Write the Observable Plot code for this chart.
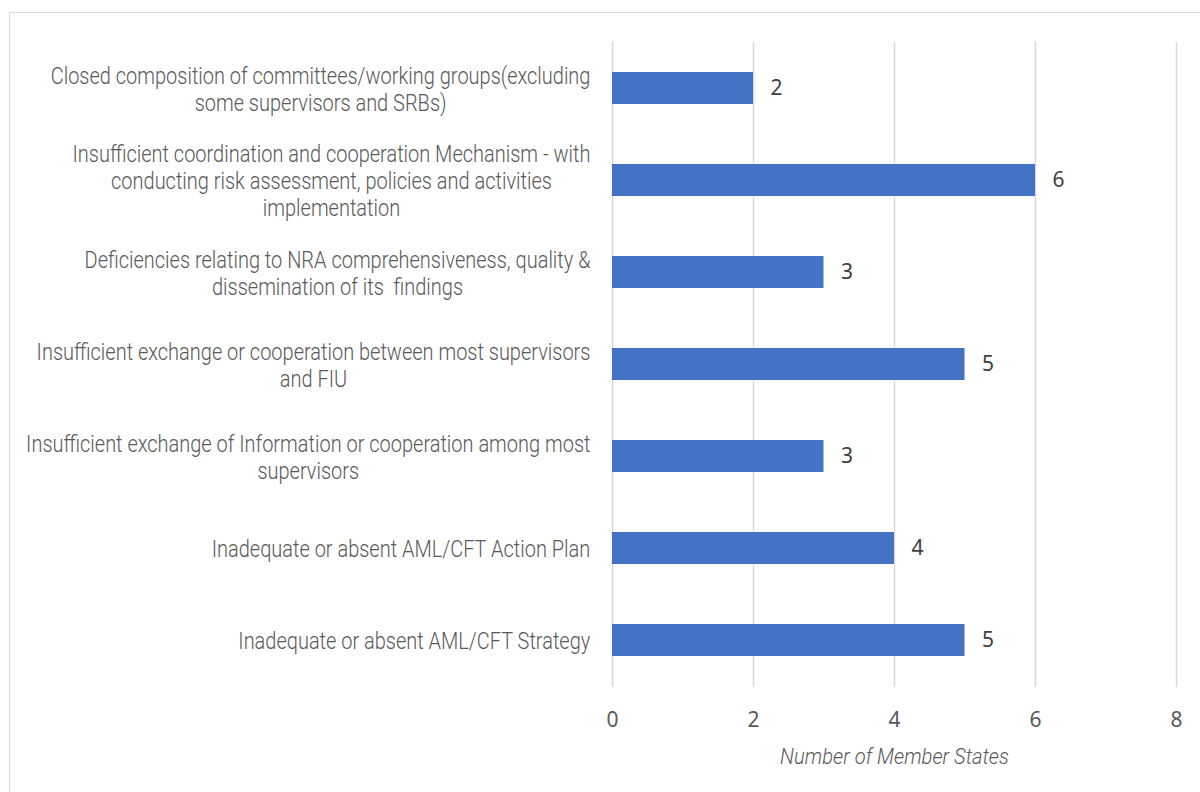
<!DOCTYPE html>
<html><head><meta charset="utf-8">
<script src="https://cdn.jsdelivr.net/npm/d3@7"></script>
<script src="https://cdn.jsdelivr.net/npm/@observablehq/plot@0.6"></script>
<style>
html,body{margin:0;padding:0;background:#fff;}
#wrap{position:relative;width:1200px;height:792px;overflow:hidden;background:#fff;}
#border{position:absolute;left:9px;top:12px;width:1400px;height:1000px;border:1px solid #d9d9d9;pointer-events:none;}
</style></head><body>
<div id="wrap"><div id="chart"></div><div id="border"></div></div>
<script>
// ---- data ----
const categories = [
  "Closed composition of committees/working groups(excluding\nsome supervisors and SRBs)",
  "Insufficient coordination and cooperation Mechanism - with\nconducting risk assessment, policies and activities\nimplementation",
  "Deficiencies relating to NRA comprehensiveness, quality &\ndissemination of its  findings",
  "Insufficient exchange or cooperation between most supervisors\nand FIU",
  "Insufficient exchange of Information or cooperation among most\nsupervisors",
  "Inadequate or absent AML/CFT Action Plan",
  "Inadequate or absent AML/CFT Strategy"
];
const values = [2, 6, 3, 5, 3, 4, 5];
const xTicks = [0, 2, 4, 6, 8];
const axisTitle = "Number of Member States";

const data = categories.map((c, i) => ({category: c, value: values[i]}));

// ---- condensed light label styling ----
const LABEL_FONT = "Roboto, 'Noto Sans', sans-serif";
const LABEL_WEIGHT = 300;
const LABEL_SIZE = 24;
const TITLE_SIZE = 22;
const ctx = document.createElement("canvas").getContext("2d");
function measure(s, size, style = "normal") {
  ctx.font = `${style} ${LABEL_WEIGHT} ${size}px ${LABEL_FONT}`;
  return d3.max(s.split("\n"), l => ctx.measureText(l).width);
}
// horizontal condensing so the widest single-line label spans ~379px, as in the reference
const SX = 379 / measure(categories[5], LABEL_SIZE);
const SX_TITLE = 229 / measure(axisTitle, TITLE_SIZE, "italic");

const labelMarks = categories.map(c => Plot.text([c], {
  y: d => d, text: d => d, frameAnchor: "left", textAnchor: "middle",
  lineAnchor: "middle", lineHeight: 27 / LABEL_SIZE,
  dx: -(22 + SX * measure(c, LABEL_SIZE) / 2),
  fontSize: LABEL_SIZE, fontFamily: LABEL_FONT, fontWeight: LABEL_WEIGHT, fill: "#595959"
}));

const chart = Plot.plot({
  width: 1200, height: 792,
  marginLeft: 612, marginRight: 24, marginTop: 42, marginBottom: 105,
  style: {fontFamily: "Noto Sans", background: "transparent", overflow: "visible"},
  x: {domain: [0, 8], axis: null},
  y: {domain: categories, paddingInner: 0.65, paddingOuter: 0.325, axis: null},
  marks: [
    Plot.ruleX(xTicks, {stroke: "#d9d9d9", strokeWidth: 1.5}),
    Plot.barX(data, {x: "value", y: "category", fill: "#4472C4"}),
    Plot.text(data, {x: "value", y: "category", text: d => String(d.value),
      textAnchor: "start", dx: 17, fill: "#404040", fontSize: 21, fontFamily: "Noto Sans"}),
    Plot.axisX(xTicks, {tickSize: 0, tickPadding: 25, fontSize: 21, color: "#595959",
      fontFamily: "Noto Sans", label: null, tickFormat: d => String(d)}),
    Plot.text([axisTitle], {text: d => d, frameAnchor: "bottom", dy: 69, lineAnchor: "middle",
      fontSize: TITLE_SIZE, fontStyle: "italic", fontWeight: LABEL_WEIGHT, fontFamily: LABEL_FONT,
      fill: "#595959", className: "axis-title"}),
    ...labelMarks
  ]
});
document.getElementById("chart").appendChild(chart);

// apply horizontal condensing around each text's anchor point
d3.select(chart).selectAll("g[font-family^='Roboto'] text").each(function () {
  const isTitle = this.textContent === axisTitle;
  const s = isTitle ? SX_TITLE : SX;
  const t = this.getAttribute("transform") || "";
  this.setAttribute("transform", `${t} scale(${s},1)`);
});
</script>
</body></html>
